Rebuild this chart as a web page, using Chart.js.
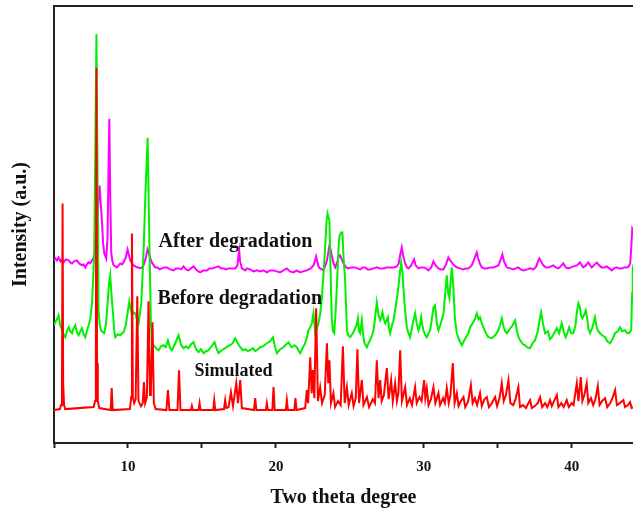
<!DOCTYPE html>
<html>
<head>
<meta charset="utf-8">
<script src="https://cdn.jsdelivr.net/npm/chart.js@4.4.1/dist/chart.umd.min.js"></script>
<style>
    html, body { margin: 0; padding: 0; background: #fff; overflow: hidden; }
    #wrap { width: 633px; height: 513px; }
</style>
</head>
<body>
<div id="wrap"><canvas id="xrdChart"></canvas></div>
<script>
// [2theta, intensity] pairs, patterns already stacked by offset
var simulated = [
    [5.0,33],[5.40,34],[5.48,38],[5.54,60],[5.58,240],[5.62,60],[5.68,38],[5.76,34],
    [7.68,36],[7.78,42],[7.83,80],[7.87,376],[7.91,80],[7.96,42],[8.06,35],
    [8.83,33],[8.90,55],[8.97,33],
    [10.13,34],[10.22,46],[10.27,210],[10.33,46],[10.42,40],[10.52,44],[10.63,147],[10.71,42],[10.88,37],[11.0,40],[11.08,61],[11.16,40],[11.28,46],[11.39,142],[11.49,48],[11.55,52],[11.66,121],[11.75,40],[11.87,34],
    [12.6,33],[12.70,53],[12.8,33],
    [13.35,33],[13.45,73],[13.55,33],
    [14.26,33],[14.32,37],[14.38,33],
    [14.77,33],[14.84,40],[14.91,33],
    [15.76,33],[15.83,43],[15.90,33],
    [16.49,34],[16.57,43],[16.65,35],[16.8,36],[16.96,51],[17.1,37],[17.32,60],[17.44,40],[17.59,63],[17.7,35],
    [18.52,33],[18.60,45],[18.68,33],
    [19.32,33],[19.39,40],[19.46,33],
    [19.76,33],[19.84,56],[19.92,33],
    [20.67,33],[20.74,43],[20.81,33],
    [21.25,33],[21.32,45],[21.4,33],
    [21.98,35],[22.09,53],[22.18,40],[22.32,86],[22.42,50],[22.50,73],[22.6,45],[22.72,135],[22.84,42],[22.99,56],[23.12,40],[23.3,48],[23.45,100],[23.54,60],[23.62,83],[23.72,40],[23.89,50],[24.0,36],
    [24.2,42],[24.38,38],[24.53,97],[24.65,40],[24.8,56],[24.92,38],[25.13,50],[25.25,37],[25.4,45],[25.51,94],[25.62,40],[25.81,63],[25.92,38],[26.15,46],[26.3,36],[26.55,44],[26.7,40],[26.82,83],[26.94,45],
    [27.05,63],[27.15,42],[27.3,48],[27.5,75],[27.62,44],[27.79,63],[27.9,42],[28.06,60],[28.18,42],[28.28,50],[28.40,93],[28.52,42],[28.74,56],[28.86,38],[29.05,45],[29.2,38],[29.41,56],[29.52,40],
    [29.7,46],[29.85,42],[30.02,63],[30.1,45],[30.2,55],[30.32,38],[30.48,44],[30.65,56],[30.78,40],[30.99,50],[31.1,38],[31.3,45],[31.42,40],[31.55,55],[31.68,40],[31.8,48],[31.96,80],[32.08,40],
    [32.23,50],[32.35,37],[32.5,42],[32.68,46],[32.8,36],[33.0,42],[33.18,58],[33.3,40],[33.45,45],[33.6,38],[33.8,50],[33.92,37],[34.1,44],[34.26,46],[34.4,36],[34.6,40],[34.82,46],[34.95,37],
    [35.12,45],[35.27,60],[35.4,42],[35.55,48],[35.72,63],[35.85,40],[36.05,38],[36.2,44],[36.39,56],[36.5,36],[36.7,38],[36.9,35],[37.18,43],[37.3,35],[37.5,37],[37.7,40],[37.86,46],[38.0,36],
    [38.2,40],[38.35,36],[38.53,43],[38.65,37],[38.8,42],[38.99,48],[39.1,36],[39.3,40],[39.45,36],[39.66,43],[39.8,36],[40.0,40],[40.12,38],[40.34,60],[40.45,42],[40.61,66],[40.72,42],[40.85,48],
    [41.01,60],[41.12,40],[41.3,45],[41.45,38],[41.6,44],[41.76,57],[41.88,38],[42.05,42],[42.25,45],[42.4,36],[42.6,40],[42.75,45],[42.93,53],[43.05,38],[43.25,40],[43.49,43],[43.6,36],[43.8,38],
    [43.94,41],[44.05,35],[44.2,36]
];

var beforeDegradation = [
    [5.0,118],[5.09,121],[5.2,124],[5.31,128],[5.42,118],[5.54,113],[5.65,109],[5.76,106],[5.88,112],[5.99,116],[6.1,112],[6.22,110],[6.33,115],[6.44,118],[6.55,111],[6.66,108],[6.78,112],[6.89,115],
    [7.0,109],[7.11,106],[7.22,112],[7.34,118],[7.45,124],[7.57,140],[7.72,190],[7.87,410],[8.01,133],[8.1,118],[8.18,113],[8.29,111],[8.40,110],[8.52,120],[8.62,140],[8.72,160],[8.80,168],[8.88,150],
    [8.99,130],[9.06,114],[9.14,106],[9.3,109],[9.48,108],[9.6,110],[9.70,111],[9.85,118],[9.97,130],[10.09,142],[10.18,134],[10.27,128],[10.38,131],[10.49,130],[10.6,124],[10.72,120],[10.9,140],
    [11.05,190],[11.18,250],[11.33,306],[11.46,190],[11.55,120],[11.62,100],[11.73,98],[11.9,95],[12.07,93],[12.24,97],[12.41,98],[12.55,96],[12.70,103],[12.85,95],[12.97,93],[13.2,100],[13.42,108],
    [13.6,98],[13.76,95],[13.92,97],[14.09,95],[14.26,99],[14.43,101],[14.6,94],[14.77,91],[14.94,94],[15.11,90],[15.28,92],[15.45,93],[15.65,97],[15.85,101],[16.0,94],[16.12,90],[16.35,93],[16.57,95],
    [16.74,97],[16.91,98],[17.08,100],[17.25,105],[17.42,100],[17.59,96],[17.76,93],[17.93,94],[18.1,92],[18.26,93],[18.45,95],[18.6,92],[18.78,94],[18.94,96],[19.15,97],[19.39,100],[19.6,102],
    [19.80,106],[19.95,96],[20.07,90],[20.3,94],[20.51,96],[20.7,99],[20.85,101],[21.0,97],[21.08,96],[21.25,98],[21.42,96],[21.55,92],[21.64,90],[21.8,95],[21.98,100],[22.1,106],[22.20,113],
    [22.32,116],[22.43,120],[22.54,130],[22.66,110],[22.78,115],[22.88,120],[23.0,130],[23.11,146],[23.22,170],[23.33,196],[23.42,222],[23.49,230],[23.56,226],[23.62,223],[23.7,170],[23.78,123],
    [23.86,112],[23.94,110],[24.03,130],[24.12,156],[24.2,185],[24.28,206],[24.40,211],[24.50,211],[24.58,185],[24.68,163],[24.8,113],[24.9,108],[25.02,106],[25.2,110],[25.36,115],[25.45,118],
    [25.54,125],[25.62,112],[25.70,110],[25.81,123],[25.9,108],[25.99,100],[26.15,96],[26.26,100],[26.37,103],[26.5,108],[26.60,113],[26.7,125],[26.82,141],[26.94,128],[27.05,123],[27.13,126],
    [27.20,131],[27.3,124],[27.39,120],[27.48,123],[27.57,126],[27.65,115],[27.72,110],[27.85,118],[27.95,123],[28.06,133],[28.18,145],[28.28,156],[28.38,170],[28.47,181],[28.55,172],[28.62,156],
    [28.72,135],[28.85,116],[28.96,110],[29.07,106],[29.18,114],[29.30,123],[29.41,130],[29.52,120],[29.64,113],[29.74,118],[29.82,126],[29.9,118],[29.97,113],[30.1,108],[30.20,106],[30.32,110],
    [30.43,113],[30.55,125],[30.65,136],[30.76,138],[30.88,120],[30.99,113],[31.15,120],[31.33,130],[31.45,150],[31.55,168],[31.65,150],[31.73,145],[31.80,160],[31.89,176],[31.98,160],[32.1,125],
    [32.23,110],[32.4,103],[32.57,98],[32.7,102],[32.85,106],[33.01,110],[33.13,116],[33.3,120],[33.45,124],[33.58,130],[33.7,124],[33.80,126],[33.92,120],[34.03,116],[34.2,110],[34.36,106],
    [34.6,105],[34.82,108],[35.0,112],[35.15,118],[35.27,125],[35.4,116],[35.5,112],[35.61,110],[35.8,114],[36.0,118],[36.17,123],[36.3,112],[36.4,106],[36.51,103],[36.7,99],[36.85,98],[36.96,96],
    [37.18,95],[37.35,100],[37.52,103],[37.7,112],[37.85,125],[37.93,131],[38.05,120],[38.2,110],[38.4,112],[38.52,104],[38.65,106],[38.8,110],[38.99,115],[39.15,110],[39.32,120],[39.45,112],
    [39.59,106],[39.7,110],[39.82,116],[39.95,110],[40.11,110],[40.25,118],[40.35,132],[40.45,140],[40.55,136],[40.62,128],[40.72,125],[40.82,128],[40.95,133],[41.05,124],[41.12,115],[41.24,110],
    [41.4,116],[41.57,126],[41.7,115],[41.8,112],[41.91,110],[42.05,108],[42.25,106],[42.4,102],[42.59,100],[42.75,104],[42.93,110],[43.1,112],[43.26,116],[43.4,112],[43.60,113],[43.75,110],
    [43.87,110],[43.95,112],[44.02,113],[44.08,150],[44.12,175],[44.2,180]
];

var afterDegradation = [
    [5.0,183],[5.09,185],[5.2,183],[5.31,186],[5.45,182],[5.55,184],[5.65,181],[5.8,184],[5.99,183],[6.1,181],[6.22,180],[6.35,182],[6.55,183],[6.7,180],[6.89,178],[7.0,179],[7.11,176],[7.22,179],
    [7.34,181],[7.45,180],[7.57,183],[7.69,186],[7.79,193],[7.88,210],[7.95,223],[8.02,250],[8.08,258],[8.16,240],[8.24,223],[8.32,200],[8.40,190],[8.53,185],[8.62,206],[8.69,280],[8.74,325],
    [8.8,250],[8.87,190],[8.95,182],[9.03,178],[9.15,177],[9.26,176],[9.37,178],[9.48,180],[9.6,179],[9.70,181],[9.85,186],[9.97,194],[10.07,188],[10.16,183],[10.27,180],[10.38,178],[10.5,177],
    [10.61,176],[10.72,176],[10.83,175],[10.95,176],[11.05,178],[11.2,185],[11.32,194],[11.42,190],[11.51,185],[11.65,180],[11.75,178],[11.84,176],[12.0,176],[12.15,174],[12.30,175],[12.45,176],
    [12.64,176],[12.85,174],[13.08,173],[13.25,175],[13.42,175],[13.6,174],[13.76,177],[13.92,174],[14.09,173],[14.25,175],[14.43,177],[14.6,174],[14.75,172],[14.89,171],[15.1,173],[15.34,173],
    [15.5,175],[15.68,175],[15.9,176],[16.12,177],[16.3,175],[16.46,175],[16.62,174],[16.80,175],[17.0,175],[17.25,175],[17.40,178],[17.47,188],[17.52,193],[17.58,182],[17.70,175],[17.93,173],
    [18.04,175],[18.25,174],[18.5,172],[18.72,173],[18.95,172],[19.15,173],[19.39,171],[19.6,173],[19.84,173],[20.05,172],[20.29,171],[20.5,173],[20.74,175],[20.95,172],[21.19,171],[21.4,173],
    [21.64,171],[21.85,172],[22.09,173],[22.35,175],[22.54,178],[22.65,183],[22.72,187],[22.8,182],[22.9,176],[22.99,175],[23.1,174],[23.22,173],[23.35,178],[23.45,183],[23.55,192],[23.62,198],
    [23.7,194],[23.78,188],[23.9,180],[24.01,176],[24.12,180],[24.23,186],[24.34,188],[24.45,184],[24.57,180],[24.75,176],[24.91,175],[25.1,176],[25.36,176],[25.5,175],[25.70,174],[25.85,176],
    [26.03,176],[26.2,174],[26.37,174],[26.6,175],[26.82,176],[27.05,175],[27.27,175],[27.5,176],[27.72,176],[27.95,176],[28.18,177],[28.3,180],[28.42,190],[28.51,196],[28.6,188],[28.74,180],
    [28.85,176],[28.96,175],[29.15,178],[29.34,184],[29.45,178],[29.64,175],[29.8,176],[29.97,176],[30.15,175],[30.31,173],[30.5,176],[30.65,182],[30.8,178],[30.99,175],[31.15,174],[31.32,174],
    [31.5,179],[31.66,186],[31.78,183],[31.89,181],[32.05,178],[32.23,176],[32.45,175],[32.68,174],[32.85,175],[33.01,175],[33.24,178],[33.4,184],[33.52,189],[33.58,191],[33.66,186],[33.78,180],
    [33.92,176],[34.1,175],[34.26,175],[34.5,176],[34.70,176],[34.88,177],[35.04,178],[35.2,184],[35.31,189],[35.42,182],[35.61,176],[35.85,175],[36.05,174],[36.22,175],[36.39,176],[36.55,174],
    [36.73,173],[37.0,174],[37.2,175],[37.41,174],[37.6,177],[37.72,182],[37.81,185],[37.92,182],[38.08,178],[38.25,176],[38.42,176],[38.6,177],[38.76,178],[38.92,176],[39.09,175],[39.25,177],
    [39.43,180],[39.6,176],[39.77,175],[39.95,176],[40.11,177],[40.35,178],[40.56,181],[40.68,178],[40.78,176],[40.95,178],[41.12,181],[41.25,178],[41.35,176],[41.5,178],[41.69,181],[41.85,178],
    [42.03,176],[42.2,176],[42.36,177],[42.55,175],[42.70,173],[42.85,175],[43.03,176],[43.2,175],[43.38,175],[43.55,176],[43.72,176],[43.85,177],[43.95,180],[44.02,195],[44.09,215],[44.2,212]
];

var seriesNames = ['Simulated', 'Before degradation', 'After degradation'];
var xTickLabels = [10, 20, 30, 40];

// writes the pattern names next to each curve (anchors are in data units)
var curveLabels = {
    id: 'curveLabels',
    afterDatasetsDraw: function (chart, args, opts) {
        var ctx = chart.ctx;
        var xs = chart.scales.x, ys = chart.scales.y;
        ctx.save();
        ctx.fillStyle = '#111';
        ctx.textAlign = 'left';
        ctx.textBaseline = 'middle';
        opts.items.forEach(function (it) {
            ctx.font = 'bold ' + it.size + 'px "Liberation Serif", "Times New Roman", serif';
            ctx.fillText(it.text, xs.getPixelForValue(it.x), ys.getPixelForValue(it.y));
        });
        ctx.restore();
    }
};

var serif = '"Liberation Serif", "Times New Roman", serif';
var axisColor = '#222';

new Chart(document.getElementById('xrdChart'), {
    type: 'line',
    data: {
        datasets: [
            { label: seriesNames[0], data: simulated, borderColor: '#ff0000' },
            { label: seriesNames[1], data: beforeDegradation, borderColor: '#00f000' },
            { label: seriesNames[2], data: afterDegradation, borderColor: '#ff00ff' }
        ]
    },
    options: {
        responsive: true,
        maintainAspectRatio: false,
        animation: false,
        events: [],
        layout: { padding: 0 },
        elements: {
            line: { borderWidth: 2, tension: 0, fill: false },
            point: { radius: 0 }
        },
        plugins: {
            legend: { display: false },
            tooltip: { enabled: false },
            curveLabels: {
                items: [
                    { text: seriesNames[2], x: 12.06, y: 202, size: 20 },
                    { text: seriesNames[1], x: 11.99, y: 145, size: 20 },
                    { text: seriesNames[0], x: 14.50, y: 72, size: 18 }
                ]
            }
        },
        scales: {
            x: {
                type: 'linear',
                position: 'bottom',
                min: 5,
                max: 44.14,
                afterFit: function (scale) { scale.height = 70; },
                grid: { display: true, drawOnChartArea: false, drawTicks: true, tickLength: 5, tickWidth: 2, tickColor: axisColor },
                border: { display: true, width: 2, color: axisColor },
                ticks: {
                    stepSize: 5,
                    includeBounds: false,
                    autoSkip: false,
                    maxRotation: 0,
                    padding: 10,
                    color: '#111',
                    font: { family: serif, size: 15, weight: 'bold' },
                    callback: function (v) { return xTickLabels.indexOf(v) >= 0 ? String(v) : ''; }
                },
                title: {
                    display: true,
                    text: 'Two theta degree',
                    color: '#111',
                    padding: { top: 0, bottom: 3 },
                    font: { family: serif, size: 20, weight: 'bold' }
                }
            },
            xTop: {
                type: 'linear',
                position: 'top',
                afterFit: function (scale) { scale.height = 6; },
                grid: { display: false },
                ticks: { display: false },
                border: { display: true, width: 2, color: axisColor }
            },
            y: {
                type: 'linear',
                min: 0,
                max: 438,
                afterFit: function (scale) { scale.width = 54; },
                grid: { display: false },
                ticks: { display: false },
                border: { display: true, width: 2, color: axisColor },
                title: {
                    display: true,
                    text: 'Intensity (a.u.)',
                    color: '#111',
                    padding: { top: 9, bottom: 0 },
                    font: { family: serif, size: 20, weight: 'bold' }
                }
            }
        }
    },
    plugins: [curveLabels]
});
</script>
</body>
</html>
